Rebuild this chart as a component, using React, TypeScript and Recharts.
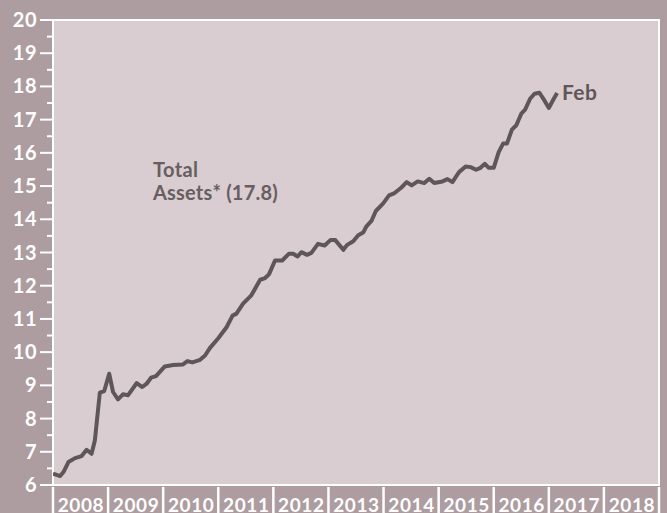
import React from 'react';
import { LineChart, Line, XAxis, YAxis, ReferenceArea, CartesianGrid, Customized } from 'recharts';

// decimal year of each reading, and total assets (trillions)
const time = [
  2008.0, 2008.13, 2008.19, 2008.28, 2008.4, 2008.52, 2008.61, 2008.7, 2008.76, 2008.85,
  2008.93, 2009.02, 2009.09, 2009.18, 2009.27, 2009.36, 2009.52, 2009.62, 2009.7, 2009.78,
  2009.87, 2010.03, 2010.18, 2010.36, 2010.44, 2010.53, 2010.67, 2010.76, 2010.85, 2011.0,
  2011.15, 2011.26, 2011.33, 2011.45, 2011.6, 2011.76, 2011.85, 2011.92, 2012.03, 2012.16,
  2012.28, 2012.36, 2012.44, 2012.51, 2012.61, 2012.69, 2012.81, 2012.93, 2013.04, 2013.12,
  2013.27, 2013.34, 2013.45, 2013.54, 2013.63, 2013.69, 2013.78, 2013.86, 2013.99, 2014.1,
  2014.2, 2014.32, 2014.42, 2014.51, 2014.62, 2014.74, 2014.83, 2014.92, 2015.07, 2015.16,
  2015.25, 2015.37, 2015.49, 2015.58, 2015.68, 2015.76, 2015.84, 2015.91, 2016.0, 2016.09,
  2016.17, 2016.24, 2016.33, 2016.41, 2016.5, 2016.57, 2016.66, 2016.74, 2016.83, 2016.92,
  2017.0, 2017.09, 2017.15,
];
const assets = [
  6.34, 6.27, 6.39, 6.69, 6.81, 6.87, 7.06, 6.94, 7.34, 8.78,
  8.83, 9.35, 8.8, 8.58, 8.73, 8.7, 9.07, 8.95, 9.05, 9.23,
  9.28, 9.57, 9.61, 9.63, 9.73, 9.69, 9.77, 9.9, 10.13, 10.42,
  10.75, 11.1, 11.16, 11.46, 11.71, 12.18, 12.23, 12.34, 12.76, 12.76,
  12.96, 12.96, 12.88, 13.01, 12.93, 12.99, 13.26, 13.21, 13.38, 13.38,
  13.08, 13.23, 13.34, 13.52, 13.6, 13.79, 13.95, 14.25, 14.47, 14.72,
  14.79, 14.95, 15.12, 15.02, 15.14, 15.09, 15.22, 15.09, 15.14, 15.21,
  15.12, 15.42, 15.59, 15.57, 15.49, 15.55, 15.67, 15.55, 15.55, 16.02,
  16.28, 16.28, 16.7, 16.83, 17.18, 17.3, 17.63, 17.78, 17.81, 17.58,
  17.35, 17.63, 17.8,
];
const years = [2008, 2009, 2010, 2011, 2012, 2013, 2014, 2015, 2016, 2017, 2018, 2019];
const yTicks = [
  6, 6.5, 7, 7.5, 8, 8.5, 9, 9.5, 10, 10.5, 11, 11.5, 12, 12.5, 13, 13.5,
  14, 14.5, 15, 15.5, 16, 16.5, 17, 17.5, 18, 18.5, 19, 19.5, 20,
];

const data = time.map((t, i) => ({ t, value: assets[i] }));

const OUTER = '#ad9ca0';
const PLOT = '#d9cdd1';
const LINE = '#5f5658';
const FONT = 'Lato, sans-serif';

const YTick = (props: any) => {
  const { x, y, payload } = props;
  const v = payload.value;
  const major = Number.isInteger(v);
  return (
    <g>
      <line x1={x - (major ? 13 : 6)} x2={x} y1={y} y2={y} stroke="#fff" strokeWidth={2} />
      {major && (
        <text x={x - 16} y={y} dy={7} textAnchor="end" fill="#fff" fontSize={20} fontWeight={700} fontFamily={FONT} letterSpacing={0.5}>
          {v}
        </text>
      )}
    </g>
  );
};

const XTick = (props: any) => {
  const { x, y, payload } = props;
  return (
    <g>
      <line x1={x} x2={x} y1={y + 2} y2={y + 30} stroke="#fff" strokeWidth={2.5} />
      {payload.value < 2019 && (
        <text x={x + 28} y={y + 27} textAnchor="middle" fill="#fff" fontSize={19} fontWeight={700} fontFamily={FONT} letterSpacing={0.6}>
          {payload.value}
        </text>
      )}
    </g>
  );
};

const Notes = () => (
  <g fontFamily={FONT} fontWeight={700}>
    <text x={153} y={177} fill="#675e60" fontSize={20} letterSpacing={0.4}>Total</text>
    <text x={153} y={200} fill="#675e60" fontSize={20} letterSpacing={0.2}>Assets* (17.8)</text>
    <text x={562} y={100} fill={LINE} fontSize={21} letterSpacing={0.4}>Feb</text>
  </g>
);

export default function App() {
  return (
    <div style={{ position: 'absolute', left: 0, top: 0, width: 667, height: 513, background: OUTER, overflow: 'hidden' }}>
      <LineChart width={667} height={513} data={data} margin={{ top: 20, right: 8, bottom: 0, left: 0 }}>
        <CartesianGrid fill={PLOT} fillOpacity={1} stroke="transparent" />
        <XAxis
          dataKey="t"
          type="number"
          domain={[2008, 2019]}
          ticks={years}
          interval={0}
          height={28}
          tickSize={0}
          tickMargin={0}
          axisLine={false}
          tick={<XTick />}
          allowDataOverflow
        />
        <YAxis
          type="number"
          domain={[6, 20]}
          ticks={yTicks}
          interval={0}
          width={53}
          tickSize={0}
          tickMargin={0}
          axisLine={false}
          tick={<YTick />}
          allowDataOverflow
        />
        <ReferenceArea x1={2008} x2={2019} y1={6} y2={20} fill="none" stroke="#fff" strokeWidth={2} />
        <Line
          dataKey="value"
          type="linear"
          stroke={LINE}
          strokeWidth={4}
          strokeLinejoin="round"
          dot={false}
          isAnimationActive={false}
        />
        <Customized component={Notes} />
      </LineChart>
    </div>
  );
}
